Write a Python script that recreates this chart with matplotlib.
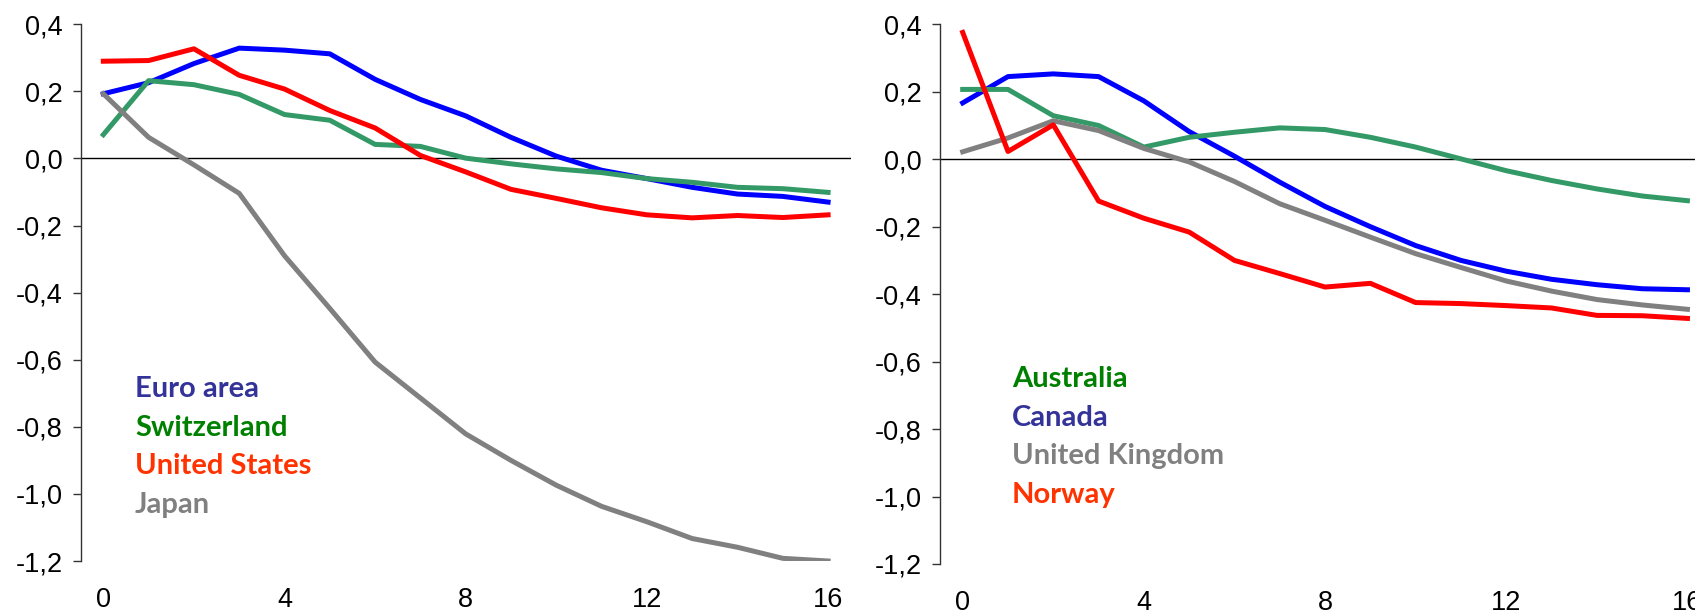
import matplotlib.pyplot as plt
from matplotlib.ticker import FuncFormatter

quarters = list(range(17))

euro_area = [0.193, 0.226, 0.283, 0.329, 0.323, 0.312, 0.236, 0.176, 0.127, 0.063,
             0.007, -0.035, -0.060, -0.086, -0.106, -0.113, -0.130]
switzerland = [0.071, 0.232, 0.220, 0.191, 0.131, 0.114, 0.042, 0.036, 0.001, -0.016,
               -0.031, -0.042, -0.060, -0.071, -0.086, -0.090, -0.101]
united_states = [0.290, 0.292, 0.327, 0.248, 0.207, 0.143, 0.091, 0.009, -0.040, -0.092,
                 -0.119, -0.147, -0.168, -0.177, -0.170, -0.176, -0.168]
japan = [0.193, 0.063, -0.019, -0.104, -0.290, -0.447, -0.607, -0.714, -0.821, -0.900,
         -0.974, -1.037, -1.083, -1.133, -1.159, -1.192, -1.200]

canada = [0.167, 0.245, 0.253, 0.245, 0.173, 0.082, 0.009, -0.068, -0.140, -0.200,
          -0.256, -0.300, -0.332, -0.356, -0.372, -0.384, -0.387]
australia = [0.207, 0.207, 0.129, 0.100, 0.036, 0.065, 0.080, 0.093, 0.088, 0.065,
             0.036, 0.001, -0.034, -0.063, -0.088, -0.109, -0.123]
united_kingdom = [0.022, 0.063, 0.114, 0.085, 0.032, -0.008, -0.066, -0.132, -0.181, -0.231,
                  -0.280, -0.321, -0.361, -0.391, -0.416, -0.432, -0.445]
norway = [0.376, 0.023, 0.102, -0.124, -0.175, -0.216, -0.300, -0.339, -0.379, -0.368,
          -0.425, -0.428, -0.434, -0.441, -0.463, -0.464, -0.472]

BLUE, RED, GREEN, GREY = '#0000FF', '#FF0000', '#339966', '#808080'

plt.rcParams['font.family'] = ['Liberation Sans', 'DejaVu Sans']

fig = plt.figure(figsize=(16.95, 6.14), dpi=100)
ax1 = fig.add_axes([0.0476, 0.0863, 0.4543, 0.8741])
ax2 = fig.add_axes([0.5546, 0.0815, 0.4543, 0.8789])

comma = FuncFormatter(lambda v, p: ('%.1f' % v).replace('.', ','))


def style(ax):
    ax.set_xlim(-0.5, 16.5)
    ax.set_ylim(-1.2, 0.4)
    ax.set_xticks([0, 4, 8, 12, 16])
    ax.set_yticks([-1.2, -1.0, -0.8, -0.6, -0.4, -0.2, 0.0, 0.2, 0.4])
    ax.yaxis.set_major_formatter(comma)
    for s in ['top', 'right', 'bottom']:
        ax.spines[s].set_visible(False)
    ax.spines['left'].set_color('#333333')
    ax.spines['left'].set_linewidth(1.0)
    ax.tick_params(axis='y', length=6, width=1, color='#333333', labelsize=19.5, pad=7)
    ax.tick_params(axis='x', length=0, labelsize=19.5, pad=19)
    ax.axhline(0, color='black', lw=1.0, zorder=1)


lw = 3.6
ax1.plot(quarters, euro_area, color=BLUE, lw=lw)
ax1.plot(quarters, switzerland, color=GREEN, lw=lw)
ax1.plot(quarters, united_states, color=RED, lw=lw)
ax1.plot(quarters, japan, color=GREY, lw=lw)
style(ax1)

ax2.plot(quarters, canada, color=BLUE, lw=lw)
ax2.plot(quarters, australia, color=GREEN, lw=lw)
ax2.plot(quarters, united_kingdom, color=GREY, lw=lw)
ax2.plot(quarters, norway, color=RED, lw=lw)
style(ax2)

lab_font = dict(family='Lato', fontweight='bold', fontsize=21)
left_labels = [('Euro area', '#333399'), ('Switzerland', '#008000'),
               ('United States', '#FF3300'), ('Japan', '#808080')]
for i, (t, c) in enumerate(left_labels):
    fig.text(135 / 1695, 1 - (397 + 38.5 * i) / 614, t, color=c, va='baseline', **lab_font)

right_labels = [('Australia', '#008000'), ('Canada', '#333399'),
                ('United Kingdom', '#808080'), ('Norway', '#FF3300')]
for i, (t, c) in enumerate(right_labels):
    fig.text(1012 / 1695, 1 - (387 + 38.5 * i) / 614, t, color=c, va='baseline', **lab_font)

fig.savefig('out.png', dpi=100)
